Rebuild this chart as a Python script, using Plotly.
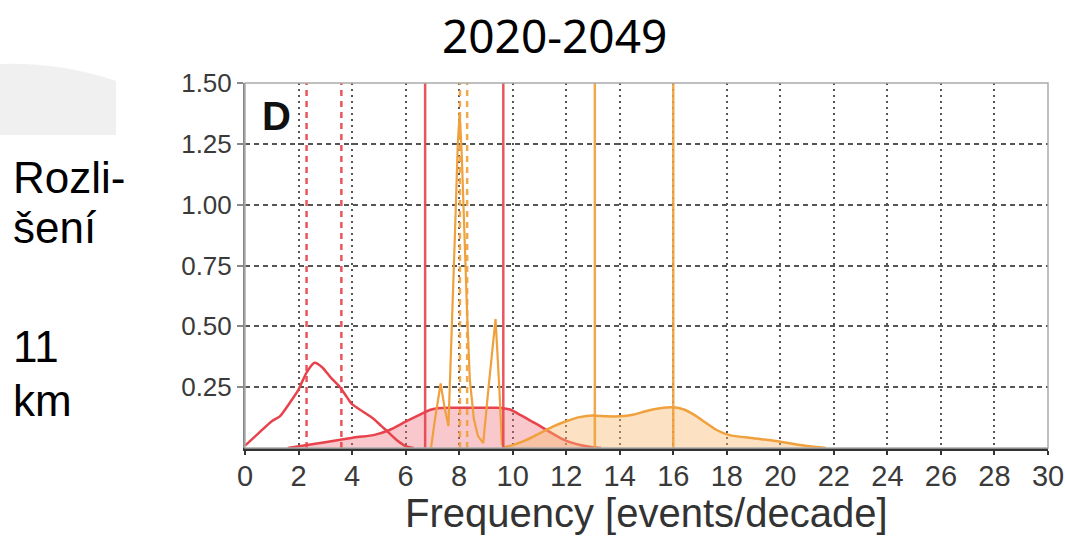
import plotly.graph_objects as go

# ---------------- data ----------------
red1_x = [0, 0.5, 1.0, 1.3, 1.7, 2.0, 2.3, 2.6, 2.9, 3.2, 3.55, 3.8, 4.0, 4.4, 4.8, 5.1, 5.4, 5.7, 6.0, 6.3]
red1_y = [0.01, 0.06, 0.11, 0.13, 0.19, 0.24, 0.31, 0.35, 0.33, 0.29, 0.25, 0.21, 0.18, 0.15, 0.12, 0.09, 0.06, 0.03, 0.008, 0.0]

red2_x = [1.6, 2.5, 3.5, 4.2, 4.8, 5.4, 6.0, 6.5, 6.9, 7.2, 7.6, 8.5, 9.4, 9.9, 10.3, 10.7, 11.0, 11.4, 11.8, 12.2, 12.6, 13.0, 13.3]
red2_y = [0.0, 0.015, 0.033, 0.045, 0.053, 0.074, 0.108, 0.135, 0.156, 0.163, 0.165, 0.165, 0.165, 0.158, 0.135, 0.11, 0.092, 0.065, 0.04, 0.022, 0.01, 0.003, 0.0]

orange_x = [9.6, 10.0, 10.5, 11.0, 11.5, 12.0, 12.5, 13.0, 13.5, 14.0, 14.5, 15.0, 15.5, 16.0, 16.4, 16.8, 17.2, 17.6, 18.1, 19.0, 20.0, 21.0, 21.7]
orange_y = [0.0, 0.012, 0.032, 0.06, 0.088, 0.11, 0.127, 0.134, 0.13, 0.13, 0.137, 0.152, 0.163, 0.167, 0.158, 0.135, 0.105, 0.075, 0.053, 0.04, 0.026, 0.008, 0.0]

spike_x = [6.95, 7.1, 7.31, 7.45, 7.6, 7.72, 7.85, 7.95, 8.02, 8.1, 8.2, 8.3, 8.4, 8.55, 8.7, 8.9, 9.1, 9.36, 9.5, 9.6]
spike_y = [0.0, 0.12, 0.265, 0.17, 0.09, 0.45, 0.9, 1.25, 1.38, 1.2, 0.85, 0.55, 0.28, 0.12, 0.05, 0.02, 0.25, 0.53, 0.25, 0.01]

red_dashed_x = [2.3, 3.6]
red_solid_x = [6.73, 9.65]
orange_dashed_x = [8.03, 8.3]
orange_solid_x = [13.07, 16.0]

x_ticks = list(range(0, 31, 2))
y_ticks = [0.25, 0.5, 0.75, 1.0, 1.25, 1.5]
y_ticktext = ["0.25", "0.50", "0.75", "1.00", "1.25", "1.50"]

title_text = "2020-2049"
xaxis_title = "Frequency [events/decade]"
panel_label = "D"
side_lines = ["Rozli-", "šení", "11", "km"]

# ---------------- styling ----------------
RED = "#e8434c"
ORANGE = "#f0a03c"
W, H = 1065, 537
L, R, T, B = 245, 1048, 83, 448   # plot area in page pixels


def px(p):
    return (p - L) / (R - L)


def py(p):
    return (B - p) / (B - T)


fig = go.Figure()

fig.add_trace(go.Scatter(x=red2_x, y=red2_y, mode="lines", fill="tozeroy",
                         fillcolor="rgba(236,110,122,0.38)",
                         line=dict(color=RED, width=2.5, shape="spline", smoothing=0.6)))
fig.add_trace(go.Scatter(x=orange_x, y=orange_y, mode="lines", fill="tozeroy",
                         fillcolor="rgba(248,185,110,0.42)",
                         line=dict(color=ORANGE, width=2.5, shape="spline", smoothing=0.6)))
fig.add_trace(go.Scatter(x=red1_x, y=red1_y, mode="lines",
                         line=dict(color=RED, width=2.5, shape="spline", smoothing=0.6)))
fig.add_trace(go.Scatter(x=spike_x, y=spike_y, mode="lines",
                         line=dict(color=ORANGE, width=2.2)))

for xs, col, dash in [(red_dashed_x, RED, "6px,5px"), (red_solid_x, RED, "solid"),
                      (orange_dashed_x, ORANGE, "6px,5px"), (orange_solid_x, ORANGE, "solid")]:
    for v in xs:
        fig.add_trace(go.Scatter(x=[v, v], y=[0, 1.5], mode="lines",
                                 line=dict(color=col, width=2.5, dash=dash),
                                 opacity=0.9))

# frame (top/right border)
fig.add_shape(type="rect", xref="paper", yref="paper", x0=0, x1=1, y0=0, y1=1,
              line=dict(color="#aaaaaa", width=1.5), layer="above")

# grey decoration on the left
fig.add_shape(type="path", xref="paper", yref="paper",
              path=f"M {px(0)},{py(64)} Q {px(60)},{py(62)} {px(116)},{py(81)} "
                   f"L {px(116)},{py(135)} L {px(0)},{py(135)} Z",
              fillcolor="#f0f0f0", line=dict(width=0), layer="below")

annotations = [
    dict(text=title_text, x=px(554), y=py(35), xref="paper", yref="paper",
         xanchor="center", yanchor="middle", showarrow=False,
         font=dict(family="Noto Sans", size=46, color="#000000")),
    dict(text=xaxis_title, x=0.5, y=py(513), xref="paper", yref="paper",
         xanchor="center", yanchor="middle", showarrow=False,
         font=dict(family="Liberation Sans", size=40, color="#333333")),
    dict(text=f"<b>{panel_label}</b>", x=px(260), y=py(116), xref="paper", yref="paper",
         xanchor="left", yanchor="middle", showarrow=False,
         font=dict(family="Liberation Sans", size=40, color="#111111")),
]
side_y = [177, 227, 346, 400]
for txt, yy in zip(side_lines, side_y):
    annotations.append(dict(text=txt, x=px(11), y=py(yy), xref="paper", yref="paper",
                            xanchor="left", yanchor="middle", showarrow=False,
                            font=dict(family="Liberation Sans", size=44, color="#000000")))

fig.update_layout(
    width=W, height=H, autosize=False,
    margin=dict(l=L, r=W - R, t=T, b=H - B, pad=0),
    paper_bgcolor="white", plot_bgcolor="white",
    showlegend=False,
    annotations=annotations,
    xaxis=dict(range=[0, 30], tickvals=x_ticks, showgrid=True, gridcolor="#555555",
               gridwidth=1.5, griddash="2px,4px", zeroline=False, automargin=False,
               showline=True, linecolor="#333333", linewidth=3,
               ticks="outside", ticklen=4, tickcolor="#333333", tickwidth=1.5,
               ticklabelstandoff=-4,
               tickfont=dict(family="Liberation Sans", size=29, color="#3a3a3a")),
    yaxis=dict(range=[0, 1.5], tickvals=y_ticks, ticktext=y_ticktext, showgrid=True,
               gridcolor="#555555", gridwidth=1.5, griddash="5px,4px", zeroline=False,
               automargin=False,
               showline=True, linecolor="#888888", linewidth=2,
               ticks="outside", ticklen=6, tickcolor="#888888", tickwidth=1.5,
               tickfont=dict(family="Liberation Sans", size=26, color="#3a3a3a")),
)

# place the figure at the page's top-left corner (no default body margin)
fig.write_html("out.html", config={"displayModeBar": False},
               post_script="document.body.style.margin='0';document.body.style.overflow='hidden';")
